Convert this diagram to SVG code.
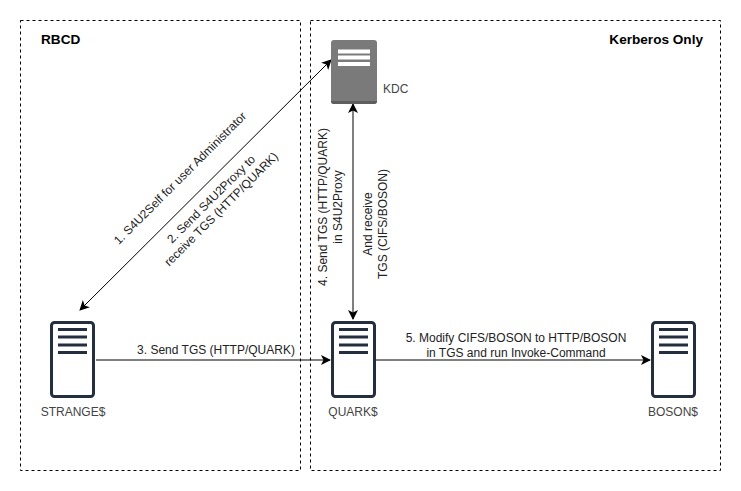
<svg xmlns="http://www.w3.org/2000/svg" width="741" height="491" viewBox="0 0 741 491">
<style>
text{font-family:"Liberation Sans",Arial,sans-serif;font-size:12px;fill:#222}
.b{font-weight:bold;font-size:13.6px;fill:#000}
.g{fill:#444}
.box{fill:none;stroke:#000;stroke-dasharray:3 3}
.c{fill:none;stroke:#000;stroke-width:1}
.m{text-anchor:middle}
</style>
<defs>
<marker id="a" viewBox="0 0 10 10" refX="9" refY="5" markerWidth="10" markerHeight="10" markerUnits="userSpaceOnUse" orient="auto-start-reverse"><path d="M0 0L10 5L0 10L2.5 5Z" fill="#000"/></marker>
<g id="srv">
<rect x="1.5" y="1.5" width="42" height="74" rx="3" fill="#fff" stroke="#232F3E" stroke-width="3"/>
<path d="M8 8.5H37M8 16H37M8 24H37M8 31.500H37" stroke="#232F3E" stroke-width="3" fill="none"/>
</g>
</defs>
<rect width="741" height="491" fill="#fff"/>
<g id="rbcd"><rect class="box" x="20.500" y="20.500" width="280" height="450"/><text class="b" x="41" y="44">RBCD</text></g>
<g id="kerberos"><rect class="box" x="310.500" y="20.500" width="410" height="450"/><text class="b" x="703" y="44" text-anchor="end">Kerberos Only</text></g>
<g id="connectors">
<path class="c" marker-start="url(#a)" marker-end="url(#a)" d="M80 310L331 60"/>
<path class="c" marker-end="url(#a)" d="M96 360H330"/>
<path class="c" marker-start="url(#a)" marker-end="url(#a)" d="M353 104V319"/>
<path class="c" marker-end="url(#a)" d="M376 360H650"/>
</g>
<g id="labels">
<text class="m" transform="translate(183 181) rotate(-45)">1. S4U2Self for user Administrator</text>
<text class="m" transform="translate(214 202) rotate(-45)">2. Send S4U2Proxy to</text>
<text class="m" transform="translate(224 212) rotate(-45)">receive TGS (HTTP/QUARK)</text>
<text class="m" transform="translate(327 207) rotate(-90)">4. Send TGS (HTTP/QUARK)</text>
<text class="m" transform="translate(342 207) rotate(-90)">in S4U2Proxy</text>
<text class="m" transform="translate(372 224) rotate(-90)">And receive</text>
<text class="m" transform="translate(387 224) rotate(-90)">TGS (CIFS/BOSON)</text>
<text class="m" x="216" y="354">3. Send TGS (HTTP/QUARK)</text>
<text class="m" x="516" y="342">5. Modify CIFS/BOSON to HTTP/BOSON</text>
<text class="m" x="516" y="357">in TGS and run Invoke-Command</text>
</g>
<g id="kdc">
<rect x="331" y="40" width="46" height="64" rx="3" fill="#7A7A7A"/>
<path d="M331 101h46v0a3 3 0 0 1-3 3h-40a3 3 0 0 1-3-3z" fill="#5E5E5E"/>
<path d="M338 51.500H370M338 57.500H370M338 64H370" stroke="#fff" stroke-width="4" fill="none"/>
<text class="g" x="383" y="93">KDC</text>
</g>
<g id="strange"><use href="#srv" x="50" y="321"/><text class="g m" x="73" y="416">STRANGE$</text></g>
<g id="quark"><use href="#srv" x="331" y="321"/><text class="g m" x="353" y="416">QUARK$</text></g>
<g id="boson"><use href="#srv" x="651" y="321"/><text class="g m" x="673" y="416">BOSON$</text></g>
</svg>
